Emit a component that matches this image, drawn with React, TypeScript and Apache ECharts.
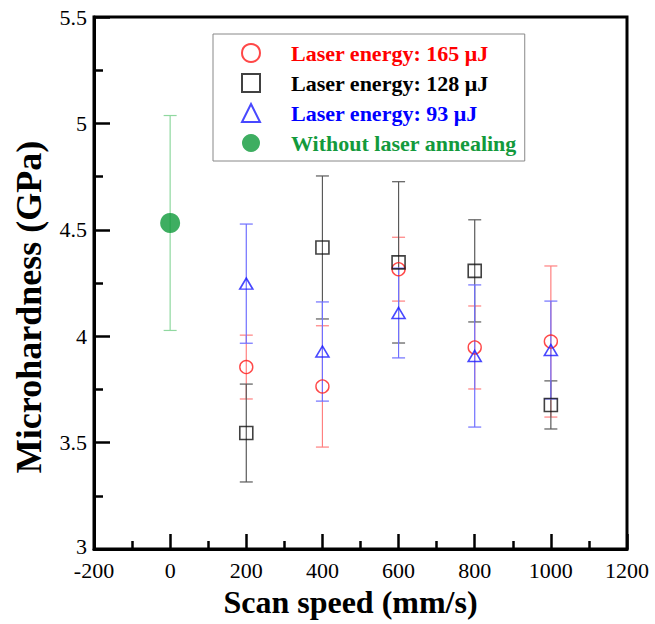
import React, { useEffect, useRef } from "react";
import * as echarts from "echarts";

const speeds = [200, 400, 600, 800, 1000];

const e165 = [3.855, 3.764, 4.315, 3.947, 3.975];
const err165 = [0.15, 0.285, 0.15, 0.195, 0.355];

const e128 = [3.545, 4.417, 4.347, 4.307, 3.677];
const err128 = [0.23, 0.336, 0.379, 0.24, 0.113];

const e93 = [4.247, 3.928, 4.109, 3.907, 3.935];
const err93 = [0.28, 0.233, 0.211, 0.334, 0.23];

const noAnnealX = [0];
const noAnneal = [4.532];
const errNoAnneal = [0.505];

const xTicks = { min: -200, max: 1200, interval: 200 };
const yTicks = { min: 3, max: 5.5, interval: 0.5 };

const names = [
  "Laser energy: 165 \u03bcJ",
  "Laser energy: 128 \u03bcJ",
  "Laser energy: 93 \u03bcJ",
  "Without laser annealing",
];

const SERIF = "'Liberation Serif', 'Times New Roman', serif";

function errData(xs: number[], ys: number[], es: number[]) {
  return xs.map((x, i) => [x, ys[i] - es[i], ys[i] + es[i]]);
}

function errSeries(name: string, data: number[][], color: string) {
  return {
    type: "custom",
    name,
    data,
    encode: { x: 0, y: [1, 2] },
    silent: true,
    z: 1,
    renderItem: (params: any, api: any) => {
      const x = api.value(0);
      const lo = api.coord([x, api.value(1)]);
      const hi = api.coord([x, api.value(2)]);
      const w = 6.5;
      const style = { stroke: color, lineWidth: 1.2 };
      return {
        type: "group",
        children: [
          { type: "line", shape: { x1: lo[0], y1: lo[1], x2: hi[0], y2: hi[1] }, style },
          { type: "line", shape: { x1: lo[0] - w, y1: lo[1], x2: lo[0] + w, y2: lo[1] }, style },
          { type: "line", shape: { x1: hi[0] - w, y1: hi[1], x2: hi[0] + w, y2: hi[1] }, style },
        ],
      };
    },
  };
}

export default function App() {
  const ref = useRef<HTMLDivElement>(null);
  useEffect(() => {
    if (!ref.current) return;
    const chart = echarts.init(ref.current, null, { renderer: "svg" });
    const pts = (xs: number[], ys: number[]) => xs.map((x, i) => [x, ys[i]]);
    chart.setOption({
      animation: false,
      backgroundColor: "#fff",
      grid: {
        left: 94,
        right: 28,
        top: 17,
        bottom: 75,
        show: true,
        borderColor: "#000",
        borderWidth: 3,
      },
      legend: {
        orient: "vertical",
        left: 213,
        top: 34,
        padding: [8, 8, 7, 28],
        itemGap: 8,
        itemWidth: 18,
        itemHeight: 18,
        backgroundColor: "#fff",
        borderColor: "#888",
        borderWidth: 1,
        selectedMode: false,
        textStyle: {
          fontFamily: SERIF,
          fontWeight: "bold",
          fontSize: 22,
          lineHeight: 22,
          padding: [0, 0, 0, 26],
        },
        data: [
          { name: names[0], textStyle: { color: "#ff0000" } },
          { name: names[1], textStyle: { color: "#000000" } },
          { name: names[2], textStyle: { color: "#0000ff" } },
          { name: names[3], textStyle: { color: "#139a3c" } },
        ],
      },
      xAxis: {
        type: "value",
        min: xTicks.min,
        max: xTicks.max,
        interval: xTicks.interval,
        name: "Scan speed (mm/s)",
        nameLocation: "middle",
        nameGap: 36,
        nameTextStyle: {
          fontFamily: SERIF,
          fontWeight: "bold",
          fontSize: 32,
          color: "#000",
          padding: [0, 20, 0, 0],
        },
        axisLine: { onZero: false, lineStyle: { color: "#000", width: 3 } },
        axisTick: { inside: true, length: 15, lineStyle: { color: "#000", width: 2.5 } },
        minorTick: { show: true, splitNumber: 2, length: 8, lineStyle: { color: "#000", width: 2.5 } },
        splitLine: { show: false },
        axisLabel: {
          fontFamily: SERIF,
          fontSize: 22,
          lineHeight: 16,
          color: "#000",
          margin: 13,
          formatter: (v: number) => String(v),
        },
      },
      yAxis: {
        type: "value",
        min: yTicks.min,
        max: yTicks.max,
        interval: yTicks.interval,
        name: "Microhardness (GPa)",
        nameLocation: "middle",
        nameGap: 47,
        nameTextStyle: {
          fontFamily: SERIF,
          fontWeight: "bold",
          fontSize: 36,
          color: "#000",
          padding: [0, 48, 0, 0],
        },
        axisLine: { onZero: false, lineStyle: { color: "#000", width: 3 } },
        axisTick: { inside: true, length: 16, lineStyle: { color: "#000", width: 2.5 } },
        minorTick: { show: true, splitNumber: 2, length: 9, lineStyle: { color: "#000", width: 2.5 } },
        splitLine: { show: false },
        axisLabel: {
          fontFamily: SERIF,
          fontSize: 22,
          lineHeight: 16,
          color: "#000",
          margin: 7,
          formatter: (v: number) => (v === yTicks.min ? "{low|" + v + "}" : String(v)),
          rich: {
            low: {
              fontFamily: SERIF,
              fontSize: 22,
              lineHeight: 16,
              color: "#000",
              padding: [0, 0, 6, 0],
            },
          },
        },
      },
      series: [
        errSeries("err165", errData(speeds, e165, err165), "#ff8080"),
        errSeries("err128", errData(speeds, e128, err128), "#5a5a5a"),
        errSeries("err93", errData(speeds, e93, err93), "#7070ff"),
        errSeries("errNo", errData(noAnnealX, noAnneal, errNoAnneal), "#90d8a0"),
        {
          type: "scatter",
          name: names[0],
          data: pts(speeds, e165),
          symbol: "circle",
          symbolSize: 13,
          z: 3,
          itemStyle: { color: "rgba(0,0,0,0)", borderColor: "#ff1a1a", borderWidth: 1.4 },
        },
        {
          type: "scatter",
          name: names[1],
          data: pts(speeds, e128),
          symbol: "rect",
          symbolSize: 13,
          z: 3,
          itemStyle: { color: "rgba(0,0,0,0)", borderColor: "#111", borderWidth: 1.6 },
        },
        {
          type: "scatter",
          name: names[2],
          data: pts(speeds, e93),
          symbol: "triangle",
          symbolSize: [13, 11],
          z: 3,
          itemStyle: { color: "rgba(0,0,0,0)", borderColor: "#1a1aff", borderWidth: 1.6 },
        },
        {
          type: "scatter",
          name: names[3],
          data: pts(noAnnealX, noAnneal),
          symbol: "circle",
          symbolSize: 20,
          z: 3,
          itemStyle: { color: "#0e9a3a" },
        },
      ],
    });
    return () => chart.dispose();
  }, []);
  return (
    <div
      ref={ref}
      style={{ position: "fixed", left: 0, top: 0, width: 655, height: 624, background: "#fff" }}
    />
  );
}
